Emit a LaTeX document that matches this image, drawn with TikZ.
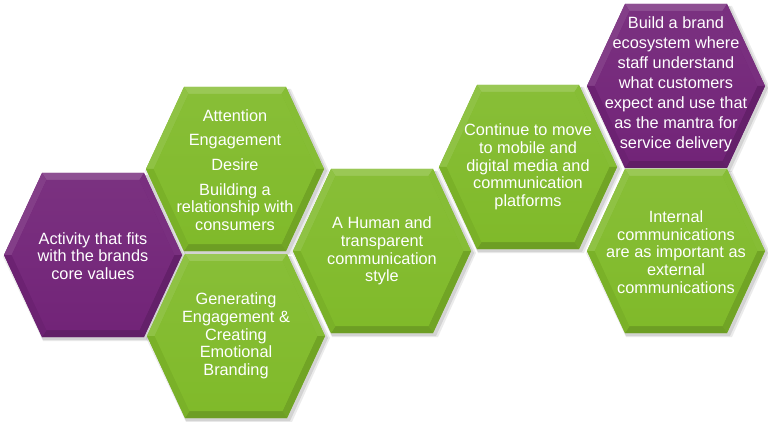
\documentclass[tikz,border=0pt]{standalone}
\usepackage{fontspec}
\setmainfont{Liberation Sans}
\definecolor{hpurple}{RGB}{114,36,120}
\definecolor{hgreen}{RGB}{128,186,42}
\tikzset{
  lbl/.style={text=white,align=center,inner sep=0pt,font=\fontsize{16.3}{17.7}\selectfont},
}
\newcommand\hexcell[3]{%
\begin{scope}[shift={(#1,#2)}]
  \fill[black,opacity=0.08] (-90,2)--(-50,86)--(56,86)--(94,2)--(56,-80)--(-50,-80)--cycle;
  \fill[black,opacity=0.10] (-88,2)--(-50,85)--(54,85)--(92,2)--(54,-80)--(-50,-80)--cycle;
  \fill[#3] (-89,0)--(-51,-82)--(51,-82)--(89,0)--(51,82)--(-51,82)--cycle;
  \fill[#3!80!white] (-51,-82)--(51,-82)--(46.5,-75)--(-46.5,-75)--cycle;
  \fill[#3!88!white] (-89,0)--(-51,-82)--(-46.5,-75)--(-81.3,0)--cycle;
  \fill[#3!95!white] (51,-82)--(89,0)--(81.3,0)--(46.5,-75)--cycle;
  \fill[#3!88!black] (89,0)--(51,82)--(46.5,75)--(81.3,0)--cycle;
  \fill[#3!85!black] (51,82)--(-51,82)--(-46.5,75)--(46.5,75)--cycle;
  \fill[#3!95!black] (-51,82)--(-89,0)--(-81.3,0)--(-46.5,75)--cycle;
  \shade[top color=#3!94!white,bottom color=#3] (-81.3,0)--(-46.5,-75)--(46.5,-75)--(81.3,0)--(46.5,75)--(-46.5,75)--cycle;
\end{scope}}
\begin{document}
\begin{tikzpicture}[x=1pt,y=-1pt]
\useasboundingbox[fill=white] (0,0) rectangle (768,422);
\hexcell{93}{255}{hpurple}
\hexcell{235}{169}{hgreen}
\hexcell{236}{336}{hgreen}
\hexcell{382}{251}{hgreen}
\hexcell{528}{167}{hgreen}
\hexcell{676}{86}{hpurple}
\hexcell{676}{251}{hgreen}
\node[lbl] (t1) at (93,256) {Activity that fits\\with the brands\\core values};
\node[lbl] (t2) at (235,170) {Attention\\[7pt]Engagement\\[7pt]Desire\\[7pt]Building a\\relationship with\\consumers};
\node[lbl] (t3) at (236,336) {Generating\\Engagement \&\\Creating\\Emotional\\Branding};
\node[lbl] (t4) at (382,251) {A Human and\\transparent\\communication\\style};
\node[lbl] (t5) at (528,167) {Continue to move\\to mobile and\\digital media and\\communication\\platforms};
\node[lbl,font=\fontsize{16.3}{20}\selectfont] (t6) at (676,84) {Build a brand\\ecosystem where\\staff understand\\what customers\\expect and use that\\as the mantra for\\service delivery};
\node[lbl] (t7) at (676,252) {Internal\\communications\\are as important as\\external\\communications};
\end{tikzpicture}
\end{document}
